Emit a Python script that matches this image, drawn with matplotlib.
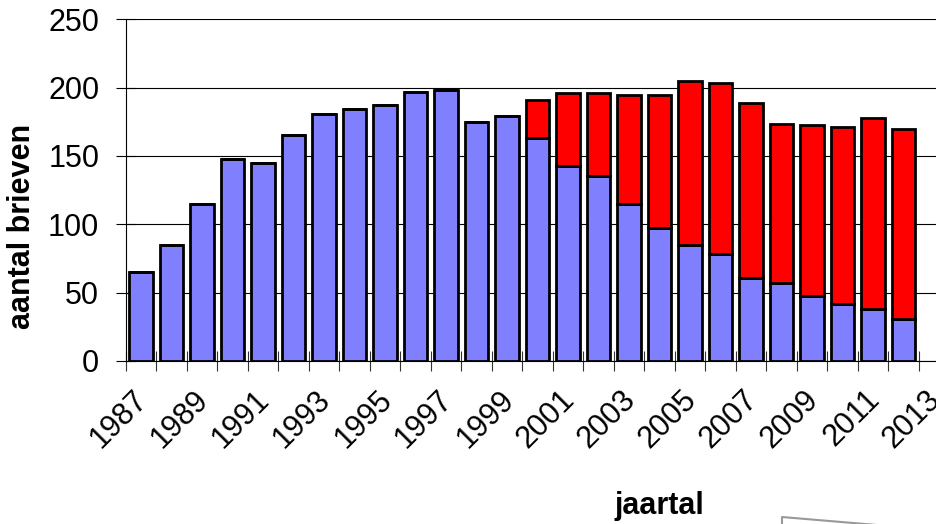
import numpy as np
import matplotlib
matplotlib.use("Agg")
import matplotlib.pyplot as plt
import matplotlib.transforms as mtransforms
from matplotlib.lines import Line2D

plt.rcParams['font.family'] = ['Liberation Sans', 'DejaVu Sans']

# data
years = list(range(1987, 2013))
tick_years = list(range(1987, 2014, 2))   # axis runs on to 2013 (no bar)
blauw = [65, 85, 115, 148, 145, 165, 181, 184, 187, 197, 198, 175, 179,
         163, 143, 135, 115, 97, 85, 78, 61, 57, 47.5, 42, 38, 31]
totaal = [65, 85, 115, 148, 145, 165, 181, 184, 187, 197, 198, 175, 179,
          191, 196, 196, 194.5, 194.5, 204.5, 203.5, 188.5, 173.5, 172.5, 171.5, 177.5, 169.5]
rood = [t - b for t, b in zip(totaal, blauw)]

fig = plt.figure(figsize=(9.36, 5.24), dpi=100)
ax = fig.add_axes([0.1343, 0.3111, 0.8798, 0.6521])

x = np.arange(len(years))
ax.bar(x, blauw, width=0.77, color='#8080FF', edgecolor='black', linewidth=2, zorder=3)
ax.bar(x, rood, width=0.77, bottom=blauw, color='#FF0000', edgecolor='black', linewidth=2, zorder=3)

ax.set_xlim(-0.5, len(years) + 0.5)
ax.set_ylim(0, 250)
ax.set_yticks(range(0, 251, 50))
ax.yaxis.grid(True, color='black', linewidth=0.8, zorder=0)

# labels at category centres, tick marks at category boundaries
ax.set_xticks([y - 1987 for y in tick_years])
ax.set_xticklabels([str(y) for y in tick_years], rotation=45, ha='right')
ax.set_xticks(np.arange(-0.5, len(years) + 1, 1), minor=True)
ax.tick_params(axis='x', which='major', length=0, pad=17, labelsize=22)
ax.tick_params(axis='x', which='minor', direction='inout', length=14, width=0.8, color='#333333')
ax.tick_params(axis='y', direction='inout', length=14, width=0.8, pad=12, labelsize=22)

# nudge the slanted year labels to the right like in the original
shift = mtransforms.ScaledTranslation(0.13, 0, fig.dpi_scale_trans)
for lab in ax.get_xticklabels():
    lab.set_transform(lab.get_transform() + shift)

for s in ['top', 'right']:
    ax.spines[s].set_visible(False)
ax.spines['left'].set_linewidth(0.8)
ax.spines['bottom'].set_linewidth(0.8)

fig.text(22 / 936, 0.568, 'aantal brieven', rotation=90, fontsize=22,
         fontweight='bold', ha='center', va='center')
fig.text(659 / 936, 1 - 506 / 524, 'jaartal', fontsize=22,
         fontweight='bold', ha='center', va='center')

# bit of a shape poking in at the bottom right
fig.add_artist(Line2D([782 / 936, 782 / 936, 936 / 936],
                      [0, 1 - 517 / 524, 1 - 530 / 524],
                      color='#999999', linewidth=1.5))

fig.savefig('out.png', dpi=100)
